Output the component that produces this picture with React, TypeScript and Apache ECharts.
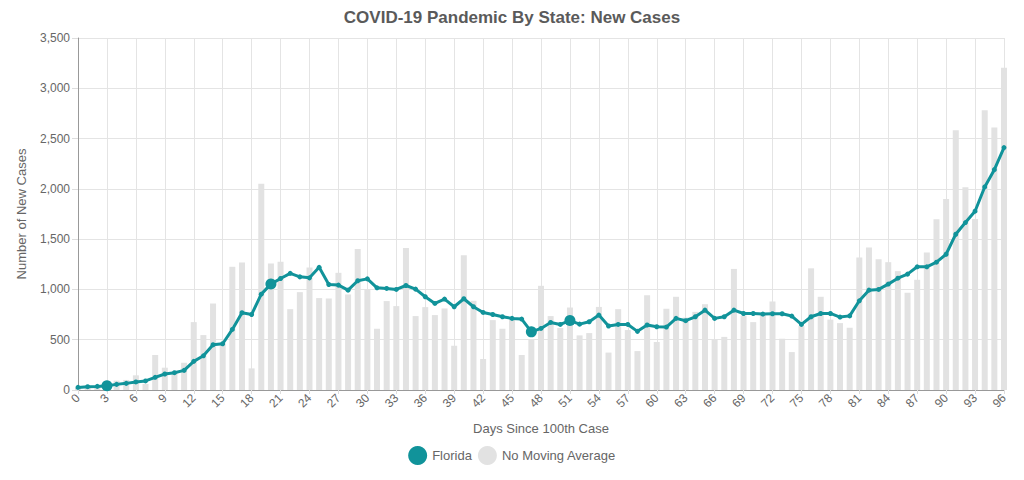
import React, { useEffect, useRef } from "react";
import * as echarts from "echarts";

const days: string[] = Array.from({ length: 97 }, (_, i) => String(i));

const dailyCases: number[] = [
  20, 30, 25, 50, 93, 100, 146, 60, 348, 222,
  170, 271, 675, 546, 860, 460, 1225, 1268, 215, 2052,
  1258, 1274, 804, 973, 1218, 914, 910, 1165, 950, 1403,
  1000, 609, 884, 834, 1413, 735, 824, 745, 811, 440,
  1340, 887, 308, 695, 609, 702, 348, 497, 1036, 735,
  616, 820, 543, 566, 826, 372, 804, 596, 387, 942,
  477, 808, 927, 720, 777, 853, 503, 528, 1204, 740,
  675, 760, 880, 510, 377, 635, 1210, 927, 700, 665,
  619, 1318, 1417, 1301, 1271, 1182, 967, 1096, 1367, 1698,
  1900, 2582, 2016, 1700, 2781, 2609, 3205,
];

const floridaAvg: number[] = [
  26, 33, 36, 43, 56, 66, 80, 90, 126, 159,
  172, 195, 285, 340, 450, 460, 602, 768, 751, 953,
  1053, 1109, 1160, 1125, 1115, 1220, 1049, 1043, 993, 1086,
  1105, 1016, 1010, 1000, 1039, 1003, 927, 861, 904, 828,
  907, 828, 771, 751, 728, 712, 705, 578, 612, 672,
  652, 690, 655, 679, 745, 636, 652, 652, 583, 646,
  629, 626, 712, 689, 728, 794, 712, 728, 794, 761,
  761, 755, 758, 758, 735, 652, 728, 761, 761, 725,
  737, 887, 993, 1000, 1053, 1112, 1152, 1225, 1225, 1271,
  1350, 1549, 1665, 1778, 2019, 2191, 2410,
];

const highlightedDays: number[] = [3, 20, 47, 51];
const yTicks: number[] = [0, 500, 1000, 1500, 2000, 2500, 3000, 3500];

const TEAL = "#11939a";
const GREY_BAR = "#e2e2e2";
const FONT = "'Liberation Sans', Arial, Helvetica, sans-serif";

export default function App() {
  const ref = useRef<HTMLDivElement>(null);

  useEffect(() => {
    if (!ref.current) return;
    const chart = echarts.init(ref.current, undefined, { renderer: "svg" });
    chart.setOption({
      animation: false,
      backgroundColor: "#ffffff",
      textStyle: { fontFamily: FONT },
      title: {
        text: "COVID-19 Pandemic By State: New Cases",
        left: "center",
        top: 4,
        textStyle: { fontSize: 17, fontWeight: "bold", color: "#5a5a5a", fontFamily: FONT },
      },
      legend: {
        bottom: 10,
        left: "center",
        itemWidth: 19,
        itemHeight: 19,
        itemGap: 6,
        icon: "circle",
        textStyle: { color: "#666666", fontSize: 13, fontFamily: FONT },
        data: [
          { name: "Florida", itemStyle: { color: TEAL } },
          { name: "No Moving Average", itemStyle: { color: GREY_BAR } },
        ],
      },
      grid: { left: 78, right: 20, top: 38, bottom: 90 },
      xAxis: {
        type: "category",
        data: days,
        boundaryGap: false,
        name: "Days Since 100th Case",
        nameLocation: "middle",
        nameGap: 32,
        nameTextStyle: { color: "#666666", fontSize: 13, fontFamily: FONT },
        axisLine: { show: true, lineStyle: { color: "#999999" } },
        axisTick: { show: true, interval: 2, length: 4, lineStyle: { color: "#dddddd" } },
        axisLabel: {
          interval: 2,
          rotate: 45,
          color: "#666666",
          fontSize: 12,
          margin: 6,
          fontFamily: FONT,
        },
        splitLine: { show: true, interval: 2, lineStyle: { color: "#e4e4e4" } },
      },
      yAxis: {
        type: "value",
        min: 0,
        max: yTicks[yTicks.length - 1],
        interval: 500,
        name: "Number of New Cases",
        nameLocation: "middle",
        nameGap: 50,
        nameTextStyle: { color: "#666666", fontSize: 13, fontFamily: FONT },
        axisLine: { show: true, lineStyle: { color: "#999999" } },
        axisTick: { show: true, length: 6, lineStyle: { color: "#dddddd" } },
        axisLabel: {
          color: "#666666",
          fontSize: 12,
          margin: 8,
          fontFamily: FONT,
          formatter: (v: number) => v.toLocaleString("en-US"),
        },
        splitLine: { show: true, lineStyle: { color: "#e4e4e4" } },
      },
      series: [
        {
          name: "No Moving Average",
          type: "bar",
          data: dailyCases,
          barWidth: 6,
          itemStyle: { color: GREY_BAR },
          z: 1,
        },
        {
          name: "Florida",
          type: "line",
          data: floridaAvg.map((v, i) => ({
            value: v,
            symbolSize: highlightedDays.includes(i) ? 11 : 5,
          })),
          symbol: "circle",
          showAllSymbol: true,
          lineStyle: { color: TEAL, width: 3 },
          itemStyle: { color: TEAL },
          z: 3,
        },
      ],
    });
    return () => chart.dispose();
  }, []);

  return (
    <div
      ref={ref}
      style={{ position: "fixed", left: 0, top: 0, width: 1024, height: 480 }}
    />
  );
}
